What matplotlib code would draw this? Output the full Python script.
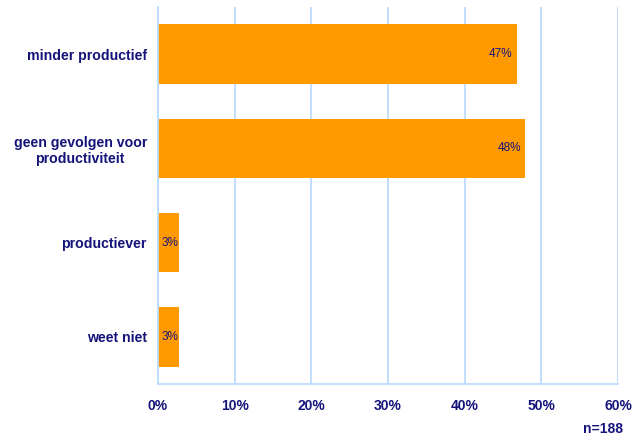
import matplotlib.pyplot as plt
import numpy as np

plt.rcParams['font.family'] = ['Liberation Sans', 'DejaVu Sans']

categories = ['minder productief', 'geen gevolgen voor\nproductiviteit', 'productiever', 'weet niet']
percentages = [46.8, 47.9, 2.7, 2.7]
xticks = [0, 10, 20, 30, 40, 50, 60]
n_total = 188

navy = '#14147a'
orange = '#ff9900'
grid_blue = '#bcdcff'

fig = plt.figure(figsize=(6.33, 4.36), dpi=100)
ax = fig.add_axes([158 / 633, 1 - 384 / 436, 460 / 633, 377 / 436])

y = np.arange(len(categories))
bars = ax.barh(y, percentages, height=0.63, color=orange, zorder=2)

for b, v in zip(bars, percentages):
    # small bars: keep the label close to the end so it stays on the bar
    off = -3 if v > 10 else -0.5
    ax.annotate(f'{v:.0f}%', xy=(v, b.get_y() + b.get_height() / 2),
                xytext=(off, 0), textcoords='offset points',
                ha='right', va='center', fontsize=8.5, color=navy, zorder=3)

ax.set_xlim(0, 60)
ax.set_ylim(len(categories) - 0.5, -0.5)
ax.set_xticks(xticks)
ax.set_xticklabels([f'{t}%' for t in xticks], fontsize=10, fontweight='bold', color=navy)
ax.set_yticks(y)
ax.set_yticklabels(categories, fontsize=10.2, fontweight='bold', color=navy,
                   multialignment='center')
ax.tick_params(axis='both', length=0)
ax.tick_params(axis='x', pad=11)
ax.tick_params(axis='y', pad=8)

ax.xaxis.grid(True, color=grid_blue, linewidth=1.3, zorder=0)
ax.set_axisbelow(True)
for side in ['left', 'bottom']:
    ax.spines[side].set_color(grid_blue)
    ax.spines[side].set_linewidth(1.3)
for side in ['top', 'right']:
    ax.spines[side].set_visible(False)

fig.text(623 / 633, 1 - 429 / 436, f'n={n_total}', ha='right', va='center',
         fontsize=10, fontweight='bold', color=navy)

fig.savefig('out.png', dpi=100)
